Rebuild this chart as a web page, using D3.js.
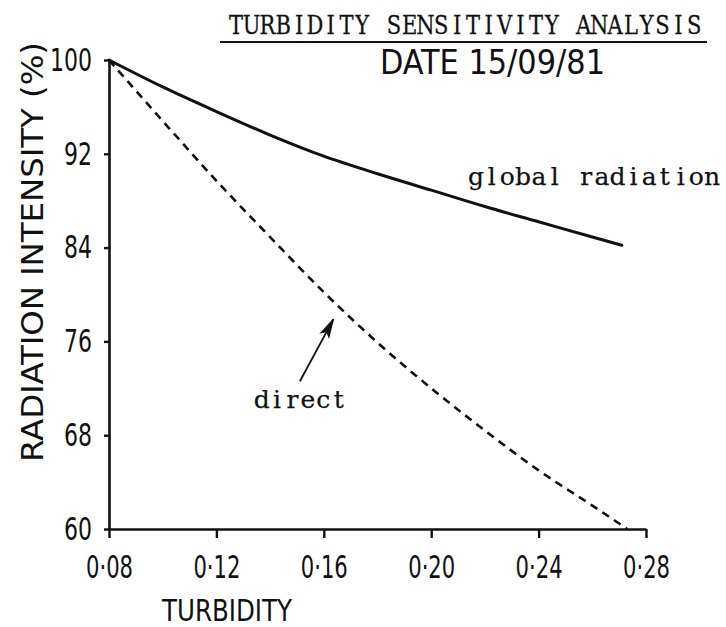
<!DOCTYPE html>
<html>
<head>
<meta charset="utf-8">
<script src="https://cdn.jsdelivr.net/npm/d3@7"></script>
<style>
  html, body { margin: 0; padding: 0; background: #fff; }
  svg { display: block; }
  .lettering { font-family: "Liberation Sans Narrow", "DejaVu Sans Condensed", "Liberation Sans", sans-serif; fill: #111; }
  .typed { font-family: "DejaVu Serif", "Liberation Serif", serif; fill: #111; stroke: #111; stroke-width: 0.25px; }
</style>
</head>
<body>
<svg id="chart" width="726" height="627"></svg>
<script>
// Turbidity values (Angstrom beta) and radiation intensity relative to beta = 0.08
const globalTurbidity = [0.08, 0.10, 0.12, 0.14, 0.16, 0.18, 0.20, 0.22, 0.24, 0.26, 0.271];
const globalIntensity = [100, 97.7, 95.6, 93.6, 91.8, 90.3, 88.9, 87.5, 86.2, 84.9, 84.2];

const directTurbidity = [0.08, 0.10, 0.12, 0.14, 0.16, 0.18, 0.20, 0.22, 0.24, 0.26, 0.273];
const directIntensity = [100, 94.8, 89.7, 84.9, 80.2, 75.9, 72.0, 68.4, 65.0, 62.0, 60.0];

const xTicks = [0.08, 0.12, 0.16, 0.20, 0.24, 0.28];
const yTicks = [60, 68, 76, 84, 92, 100];

// Pointer from the "direct" note to its curve: [turbidity, intensity]
const directArrowTail = [0.1511, 72.6];
const directArrowTip = [0.1636, 77.9];

const svg = d3.select("#chart");

const x = d3.scaleLinear().domain([0.08, 0.28]).range([109, 646]);
const y = d3.scaleLinear().domain([60, 100]).range([529, 60]);

const ink = "#111";

// Axes
const yAxis = d3.axisLeft(y)
  .tickValues(yTicks)
  .tickFormat(d => String(d))
  .tickSize(5)
  .tickSizeOuter(0)
  .tickPadding(12);

const xAxis = d3.axisBottom(x)
  .tickValues(xTicks)
  .tickFormat(d => d3.format(".2f")(d).replace(".", "\u00B7"))
  .tickSize(9)
  .tickSizeOuter(0)
  .tickPadding(17);

const gy = svg.append("g").attr("transform", "translate(109,0)").call(yAxis);
const gx = svg.append("g").attr("transform", "translate(0,529)").call(xAxis);

[gx, gy].forEach(g => {
  g.select(".domain").attr("stroke", ink).attr("stroke-width", 2.6);
  g.selectAll(".tick line").attr("stroke", ink).attr("stroke-width", 2.4);
  g.selectAll(".tick text")
    .attr("class", "lettering")
    .attr("fill", ink)
    .style("font-size", "32px");
});
// hand-lettered numerals are narrow
gy.selectAll(".tick text")
  .attr("textLength", function () { return this.textContent.length * 14; })
  .attr("lengthAdjust", "spacingAndGlyphs");
gx.selectAll(".tick text")
  .attr("textLength", 47)
  .attr("lengthAdjust", "spacingAndGlyphs");

// Curves
const line = d3.line()
  .x(d => x(d[0]))
  .y(d => y(d[1]))
  .curve(d3.curveMonotoneX);

const globalPts = globalTurbidity.map((t, i) => [t, globalIntensity[i]]);
const directPts = directTurbidity.map((t, i) => [t, directIntensity[i]]);

svg.append("path")
  .datum(globalPts)
  .attr("d", line)
  .attr("fill", "none")
  .attr("stroke", ink)
  .attr("stroke-width", 3)
  .attr("stroke-linecap", "round");

svg.append("path")
  .datum(directPts)
  .attr("d", line)
  .attr("fill", "none")
  .attr("stroke", ink)
  .attr("stroke-width", 2.6)
  .attr("stroke-dasharray", "8,6");

// Arrow annotation
const defs = svg.append("defs");
defs.append("marker")
  .attr("id", "head")
  .attr("viewBox", "-20 -6 22 12")
  .attr("refX", 0).attr("refY", 0)
  .attr("markerWidth", 22).attr("markerHeight", 12)
  .attr("markerUnits", "userSpaceOnUse")
  .attr("orient", "auto")
  .append("path")
  .attr("d", "M-18,-4.5 L0,0 L-18,4.5 L-14,0 Z")
  .attr("fill", ink)
  .attr("stroke", ink)
  .attr("stroke-width", 1.2);

svg.append("line")
  .attr("x1", x(directArrowTail[0])).attr("y1", y(directArrowTail[1]))
  .attr("x2", x(directArrowTip[0])).attr("y2", y(directArrowTip[1]))
  .attr("stroke", ink)
  .attr("stroke-width", 1.8)
  .attr("marker-end", "url(#head)");

// Typewritten text: one glyph per fixed-width cell
function typed(str, x0, baseline, cell, size, sy) {
  const t = svg.append("text")
    .attr("class", "typed")
    .attr("transform", `translate(${x0},${baseline}) scale(1,${sy})`)
    .attr("text-anchor", "middle")
    .attr("x", Array.from(str, (c, i) => (i + 0.5) * cell).join(" "))
    .attr("y", 0)
    .style("font-size", size + "px")
    .text(str);
  return t;
}

typed("global radiation", 468, 185, 15.75, 25, 1.0);
typed("direct", 254, 408, 15.4, 25, 1.0);
typed("TURBIDITY SENSITIVITY ANALYSIS", 228, 34, 15.8, 21, 1.28);

svg.append("line")
  .attr("x1", 220).attr("x2", 707)
  .attr("y1", 42).attr("y2", 42)
  .attr("stroke", ink).attr("stroke-width", 2);

svg.append("text").attr("class", "lettering")
  .attr("x", 380).attr("y", 74)
  .style("font-size", "34px")
  .attr("textLength", 225).attr("lengthAdjust", "spacingAndGlyphs")
  .text("DATE 15/09/81");

// Axis titles
svg.append("text").attr("class", "lettering")
  .attr("transform", "translate(43,462) rotate(-90)")
  .style("font-size", "31px")
  .attr("textLength", 420).attr("lengthAdjust", "spacingAndGlyphs")
  .text("RADIATION INTENSITY (%)");

svg.append("text").attr("class", "lettering")
  .attr("x", 162).attr("y", 621)
  .style("font-size", "31px")
  .attr("textLength", 130).attr("lengthAdjust", "spacingAndGlyphs")
  .text("TURBIDITY");
</script>
</body>
</html>
